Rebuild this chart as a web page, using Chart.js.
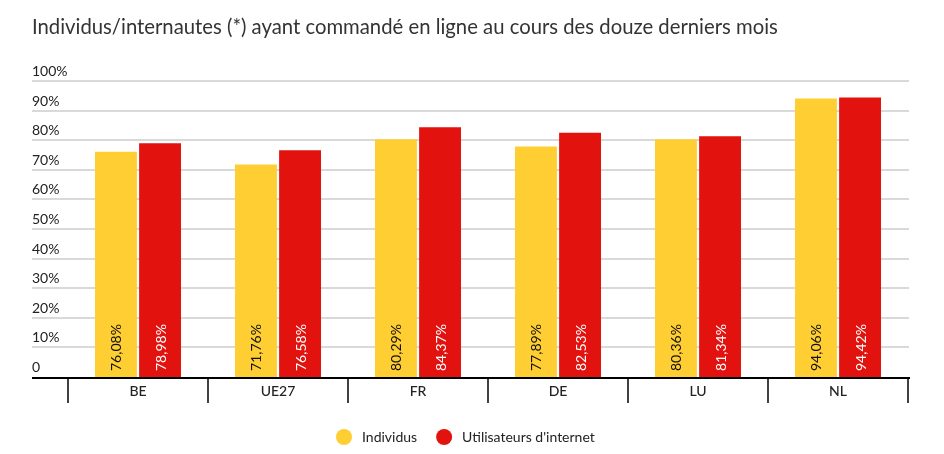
<!DOCTYPE html>
<html>
<head>
<meta charset="utf-8">
<script src="https://cdn.jsdelivr.net/npm/chart.js@4"></script>
<style>
  html, body { margin: 0; padding: 0; background: #fff; }
  #wrap { width: 944px; height: 454px; }
</style>
</head>
<body>
<div id="wrap"><canvas id="graphique"></canvas></div>
<script>
const titre = 'Individus/internautes (*) ayant commandé en ligne au cours des douze derniers mois';
const pays = ['BE', 'UE27', 'FR', 'DE', 'LU', 'NL']; // categories
const individus = [76.08, 71.76, 80.29, 77.89, 80.36, 94.06];
const utilisateurs = [78.98, 76.58, 84.37, 82.53, 81.34, 94.42];
const etiquettesY = ['0', '10%', '20%', '30%', '40%', '50%', '60%', '70%', '80%', '90%', '100%'];
const valeursY = [0, 10, 20, 30, 40, 50, 60, 70, 80, 90, 100];

const JAUNE = '#FFCE32';
const ROUGE = '#E2120F';
const POLICE = 'Lato, "Open Sans", sans-serif';

// dessin du titre, de la grille, des axes, des etiquettes et de la legende
const habillage = {
  id: 'habillage',
  beforeDatasetsDraw(chart) {
    const c = chart.ctx, y = chart.scales.y;
    c.save();
    c.font = '14px ' + POLICE;
    c.fillStyle = '#222';
    c.textAlign = 'left';
    c.textBaseline = 'alphabetic';
    valeursY.forEach((v, i) => {
      const py = Math.round(y.getPixelForValue(v));
      if (v > 0) {
        c.strokeStyle = '#cccccc';
        c.lineWidth = 1.5;
        c.beginPath(); c.moveTo(32, py); c.lineTo(909, py); c.stroke();
      }
      c.fillText(etiquettesY[i], 32, py - 5);
    });
    // titre
    c.font = '20.3px ' + POLICE;
    c.fillStyle = '#333';
    c.textBaseline = 'middle';
    c.fillText(titre, 32, 27);
    c.restore();
  },
  afterDatasetsDraw(chart) {
    const c = chart.ctx, x = chart.scales.x, y = chart.scales.y;
    const base = Math.round(y.getPixelForValue(0));
    c.save();
    // valeurs dans les barres
    c.font = '14px ' + POLICE;
    c.textAlign = 'left';
    c.textBaseline = 'middle';
    chart.data.datasets.forEach((ds, di) => {
      chart.getDatasetMeta(di).data.forEach((bar, i) => {
        const txt = ds.data[i].toFixed(2).replace('.', ',') + '%';
        c.save();
        c.translate(bar.x + 1, base - 6);
        c.rotate(-Math.PI / 2);
        c.fillStyle = di === 0 ? '#111' : '#fff';
        c.fillText(txt, 0, 0);
        c.restore();
      });
    });
    // axe et separateurs
    c.strokeStyle = '#000';
    c.lineWidth = 2;
    c.beginPath(); c.moveTo(32, base + 1); c.lineTo(910, base + 1); c.stroke();
    c.lineWidth = 1.5;
    const larg = (x.right - x.left) / pays.length;
    for (let i = 0; i <= pays.length; i++) {
      const px = Math.round(x.left + i * larg);
      c.beginPath(); c.moveTo(px, base + 2); c.lineTo(px, base + 26); c.stroke();
    }
    c.fillStyle = '#222';
    c.textAlign = 'center';
    c.font = '500 14px ' + POLICE;
    pays.forEach((p, i) => c.fillText(p, x.getPixelForValue(i), base + 14));
    // legende
    c.font = '14px ' + POLICE;
    c.textAlign = 'left';
    const ly = 437;
    let lx = 344;
    chart.data.datasets.forEach(ds => {
      c.fillStyle = ds.backgroundColor;
      c.beginPath(); c.arc(lx, ly, 8, 0, Math.PI * 2); c.fill();
      c.fillStyle = '#222';
      c.fillText(ds.label, lx + 18, ly);
      lx += 18 + c.measureText(ds.label).width + 27;
    });
    c.restore();
  }
};

const graphique = new Chart(document.getElementById('graphique').getContext('2d'), {
  type: 'bar',
  data: {
    labels: pays,
    datasets: [
      { label: 'Individus', data: individus, backgroundColor: JAUNE },
      { label: "Utilisateurs d'internet", data: utilisateurs, backgroundColor: ROUGE }
    ]
  },
  options: {
    responsive: true,
    maintainAspectRatio: false,
    animation: false,
    layout: { padding: { left: 68, right: 36, top: 81, bottom: 77 } },
    datasets: { bar: { categoryPercentage: 0.63, barPercentage: 0.95 } },
    scales: {
      x: { display: false },
      y: { display: false, min: 0, max: 100 }
    },
    plugins: {
      legend: { display: false },
      tooltip: { enabled: false }
    }
  },
  plugins: [habillage]
});
</script>
</body>
</html>
